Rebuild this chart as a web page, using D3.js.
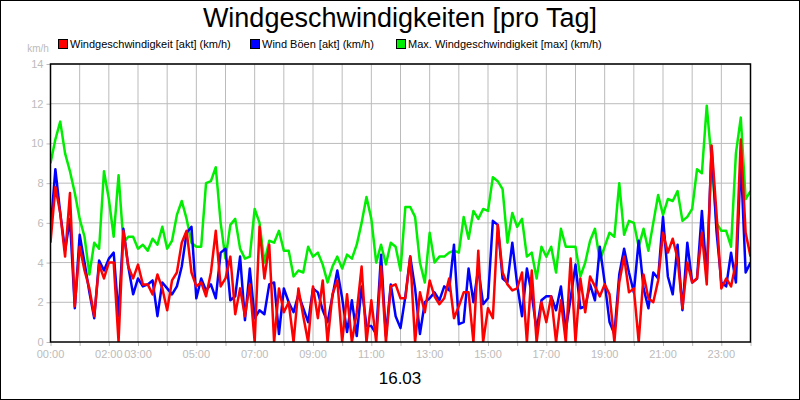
<!DOCTYPE html>
<html><head><meta charset="utf-8">
<script src="https://cdn.jsdelivr.net/npm/d3@7"></script>
<style>body{margin:0;background:#fff}svg{display:block;font-family:"Liberation Sans",Arial,sans-serif}</style>
</head><body><svg id="c" width="800" height="400"></svg>
<script>
const stepMinutes = 10;
const tickHours = [0,2,3,5,7,9,11,13,15,17,19,21,23];
const yTicks = [0,2,4,6,8,10,12,14];
const seriesNames = ["Windgeschwindigkeit [akt] (km/h)","Wind Böen [akt] (km/h)","Max. Windgeschwindigkeit [max] (km/h)"];
const seriesColors = ["#ff0000","#0000ff","#00ee00"];
const maxWind = [9.0,10.2,11.1,9.5,8.6,7.5,6.2,5.3,3.4,5.0,4.7,8.6,7.2,5.3,8.4,5.0,5.3,5.3,4.7,4.9,4.6,5.2,4.9,5.8,4.7,5.1,6.4,7.1,6.2,5.0,4.8,4.8,8.0,8.1,8.8,6.0,4.2,5.9,6.2,4.7,4.2,4.3,6.7,6.0,4.0,5.1,5.0,5.6,4.6,4.6,3.3,3.6,3.5,4.8,4.3,4.5,3.9,3.0,3.8,4.3,3.7,4.4,4.2,4.9,6.0,7.3,6.2,4.0,4.9,3.9,5.0,4.8,
3.6,6.8,6.8,6.3,4.0,3.0,5.5,4.0,4.3,4.3,4.5,4.6,4.5,6.3,5.2,6.6,6.2,6.7,6.6,8.3,8.1,7.7,5.0,6.5,5.8,6.2,4.3,4.5,3.2,4.8,4.3,4.8,3.5,5.7,4.8,4.8,4.8,3.3,4.0,5.1,5.7,4.1,4.8,5.5,5.3,8.0,5.4,6.1,6.0,4.8,5.7,4.6,6.0,7.4,6.4,7.2,7.1,7.6,6.1,6.3,6.7,8.7,8.5,11.9,9.1,6.0,5.6,5.6,4.8,9.5,11.3,7.2,7.6];
const windAkt = [5.0,7.8,6.5,4.3,7.5,1.8,4.8,3.6,2.7,1.3,3.9,3.2,4.0,4.0,0.0,5.6,3.8,3.2,3.9,2.9,2.9,2.4,3.4,2.7,1.6,3.1,3.5,5.0,5.6,3.5,2.8,3.0,2.3,3.5,5.6,2.8,3.2,4.3,1.4,2.7,1.3,2.9,0.0,5.8,3.2,4.9,0.0,2.7,1.5,2.0,0.0,2.7,1.3,0.0,2.8,1.2,3.1,0.0,2.4,3.1,0.0,2.4,0.0,1.5,3.8,0.0,2.1,0.0,3.8,0.0,2.8,2.9,
2.2,2.2,4.3,0.0,2.5,1.5,3.1,2.3,1.9,2.2,3.2,1.2,1.8,2.5,2.5,0.0,4.6,0.0,1.7,1.2,5.9,3.5,2.9,2.6,2.7,3.5,0.0,3.6,0.0,2.0,1.0,2.3,0.0,2.1,0.0,4.2,0.0,3.2,1.5,3.3,2.8,2.3,2.9,2.4,0.0,3.0,4.3,2.5,2.7,0.0,3.4,2.2,2.0,3.1,5.5,4.5,5.2,4.2,1.7,4.0,3.0,3.2,5.5,2.9,9.9,6.5,2.7,3.2,2.8,4.0,10.2,5.5,4.3];
const gustAkt = [5.6,8.7,6.5,4.6,6.2,1.7,5.4,4.0,2.5,1.2,4.1,3.6,4.2,4.5,1.3,5.7,3.8,2.4,3.2,2.8,2.9,3.1,1.3,3.0,2.7,2.4,2.8,3.8,5.5,5.8,2.2,3.2,2.6,2.9,2.2,4.5,4.7,2.1,2.3,4.3,1.1,3.7,1.2,1.6,1.4,2.9,3.0,0.4,2.7,2.0,1.5,2.4,1.7,1.0,2.7,2.5,1.6,1.0,2.3,3.6,2.2,0.5,2.1,0.3,2.8,0.8,0.8,0.4,4.4,0.3,2.9,1.3,
0.7,2.3,4.3,2.7,0.4,2.0,2.2,2.5,2.1,2.8,2.6,4.9,0.9,1.0,3.7,2.0,3.7,1.9,2.2,6.1,5.9,3.2,3.0,5.0,2.9,1.3,3.7,2.4,0.6,2.1,2.3,2.3,1.6,2.8,0.6,2.2,3.9,1.7,1.8,2.9,2.1,4.8,3.0,1.0,0.4,3.4,4.7,3.5,2.5,5.1,2.7,1.7,3.5,3.2,6.3,3.3,2.4,4.9,1.6,5.0,3.0,3.2,6.6,3.3,9.8,5.6,3.0,2.8,4.5,3.0,9.2,3.5,4.0];

const svg = d3.select("#c");
const L=50.5,R=750.5,T=64,B=342;
const x = d3.scaleLinear().domain([0,24*60]).range([L,R]);
const y = d3.scaleLinear().domain([0,14]).range([B,T]);
svg.append("rect").attr("x",0.5).attr("y",0.5).attr("width",799).attr("height",399).attr("fill","#fff").attr("stroke","#000");
// grid
svg.append("g").selectAll("line").data(d3.range(1,24)).join("line")
  .attr("x1",h=>x(h*60)).attr("x2",h=>x(h*60)).attr("y1",T).attr("y2",B).attr("stroke","#bbb");
svg.append("g").selectAll("line").data(yTicks.slice(1)).join("line")
  .attr("x1",L).attr("x2",R).attr("y1",d=>y(d)).attr("y2",d=>y(d)).attr("stroke","#bbb");
// axes
const xa = svg.append("g").attr("transform",`translate(0,${B})`)
  .call(d3.axisBottom(x).tickValues(d3.range(0,25).map(h=>h*60)).tickSize(4).tickFormat(""));
xa.select(".domain").remove(); xa.selectAll("line").attr("stroke","#bbb");
svg.append("g").selectAll("text").data(tickHours).join("text")
  .attr("x",h=>x(h*60)).attr("y",B+16).attr("text-anchor","middle").attr("fill","#bbb").attr("font-size",11)
  .text(h=>String(h).padStart(2,"0")+":00");
const ya = svg.append("g").attr("transform",`translate(${L},0)`)
  .call(d3.axisLeft(y).tickValues(yTicks).tickSize(4).tickFormat(d3.format("d")));
ya.select(".domain").remove(); ya.selectAll("line").attr("stroke","#bbb");
ya.selectAll("text").attr("fill","#bbb").attr("font-size",11).attr("font-family","Liberation Sans,Arial,sans-serif");
svg.append("text").attr("x",38).attr("y",52).attr("text-anchor","middle").attr("fill","#bbb").attr("font-size",10).text("km/h");
// lines
const line = d3.line().x((d,i)=>x(i*stepMinutes)).y(d=>y(d));
svg.append("defs").append("clipPath").attr("id","cp").append("rect").attr("x",L).attr("y",T).attr("width",R-L).attr("height",B-T);
const g = svg.append("g").attr("clip-path","url(#cp)");
[[maxWind,2],[gustAkt,1],[windAkt,0]].forEach(([data,ci])=>{
  g.append("path").datum(data).attr("d",line).attr("fill","none").attr("stroke",seriesColors[ci]).attr("stroke-width",2.5).attr("stroke-linejoin","round");
});
svg.append("rect").attr("x",L).attr("y",T).attr("width",R-L).attr("height",B-T).attr("fill","none").attr("stroke","#000").attr("stroke-width",1.5);
// title
svg.append("text").attr("x",400).attr("y",27).attr("text-anchor","middle").attr("font-size",27).text("Windgeschwindigkeiten [pro Tag]");
svg.append("text").attr("x",400).attr("y",384).attr("text-anchor","middle").attr("font-size",17).text("16.03");
// legend
const lx=[58,250,396];
seriesNames.forEach((n,i)=>{
  svg.append("rect").attr("x",lx[i]+0.5).attr("y",39.5).attr("width",9).attr("height",9).attr("fill",seriesColors[i]).attr("stroke","#000");
  svg.append("text").attr("x",lx[i]+12).attr("y",48).attr("font-size",11).text(n);
});
</script></body></html>
